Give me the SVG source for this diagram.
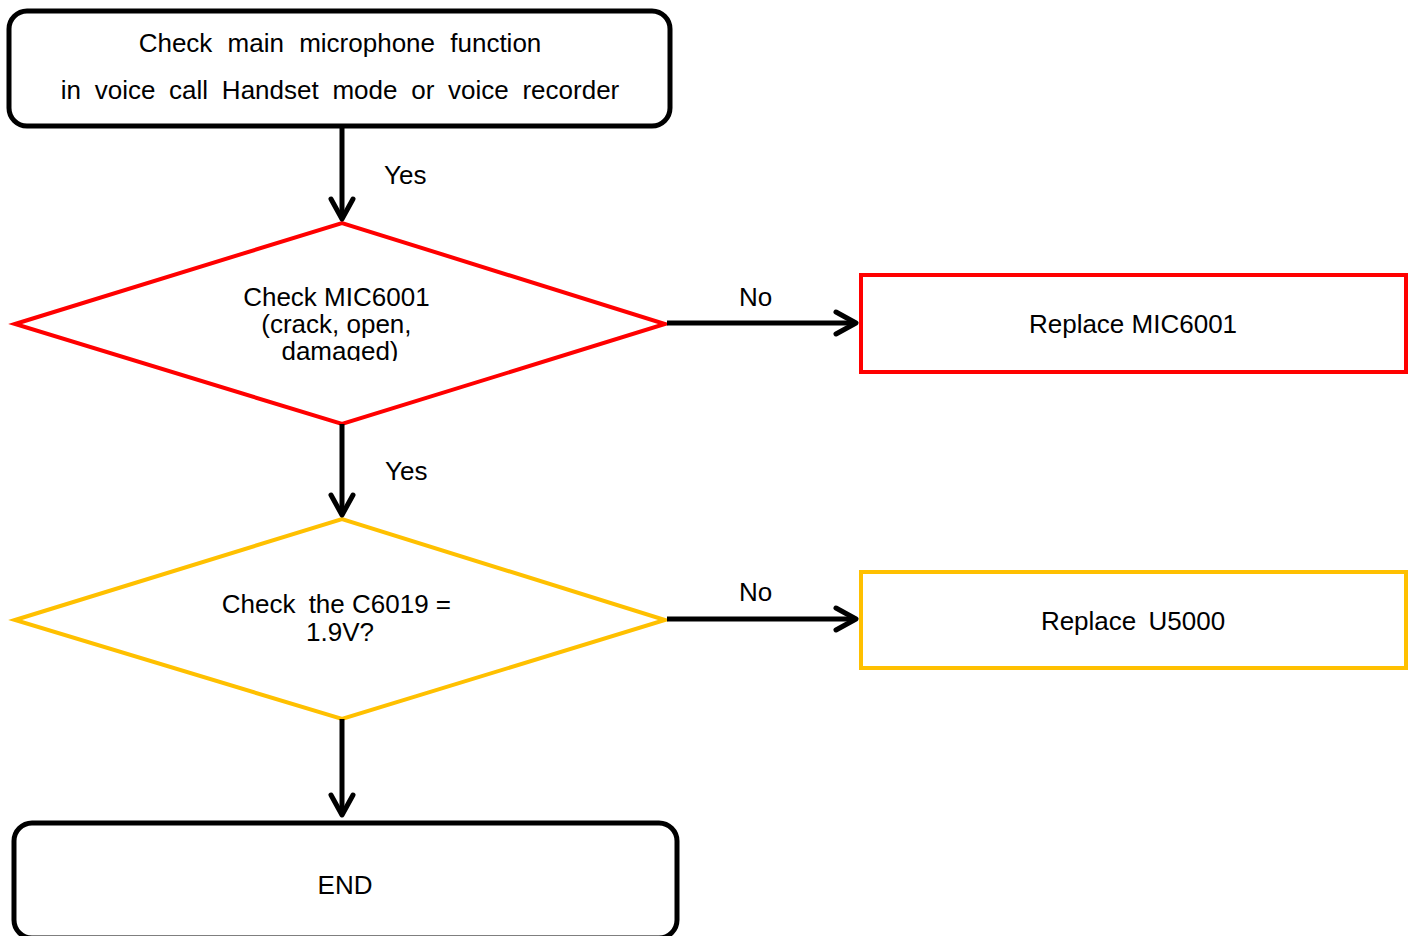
<svg xmlns="http://www.w3.org/2000/svg" width="1414" height="936" viewBox="0 0 1414 936">
  <style>
    .t { font-family: "Liberation Sans", Arial, sans-serif; fill: #000; font-size: 26px; }
    .term { fill: #fff; stroke: #000; stroke-width: 5; }
    .red { fill: #fff; stroke: #FF0000; stroke-width: 4; }
    .gold { fill: #fff; stroke: #FFC000; stroke-width: 4; }
    .conn { stroke: #000; stroke-width: 5; fill: none; }
  </style>
  <defs>
    <marker id="arr" markerUnits="userSpaceOnUse" orient="auto" refX="0" refY="0" overflow="visible" markerWidth="30" markerHeight="30">
      <path d="M -20,-11 L 0,0 L -20,11" fill="none" stroke="#000" stroke-width="5" stroke-linecap="round" stroke-linejoin="round"/>
    </marker>
    <clipPath id="clip1">
      <rect x="0" y="270" width="700" height="91"/>
    </clipPath>
  </defs>
  <rect width="1414" height="936" fill="#fff"/>

  <g id="start">
    <rect class="term" x="9" y="11" width="661" height="115" rx="18"/>
    <text class="t" x="340" y="52" text-anchor="middle" word-spacing="8">Check main microphone function</text>
    <text class="t" x="340" y="99" text-anchor="middle" word-spacing="6.5">in voice call Handset mode or voice recorder</text>
  </g>

  <g id="check-mic">
    <polygon class="red" points="15,324 342,223 665,324 342,424"/>
    <g clip-path="url(#clip1)">
      <text class="t" text-anchor="middle" font-size="26.5">
        <tspan x="340" y="306">Check MIC6001</tspan>
        <tspan x="340" y="333">(crack, open,</tspan>
        <tspan x="340" y="360">damaged)</tspan>
      </text>
    </g>
  </g>

  <g id="replace-mic">
    <rect class="red" x="861" y="275" width="545" height="97"/>
    <text class="t" x="1133" y="333" text-anchor="middle" font-size="26.5">Replace MIC6001</text>
  </g>

  <g id="check-c6019">
    <polygon class="gold" points="15,620 342,519 665,620 342,719"/>
    <text class="t" text-anchor="middle" font-size="26.5">
      <tspan x="340" y="613">Check<tspan dx="6"> the C6019 =</tspan></tspan>
      <tspan x="340" y="641">1.9V?</tspan>
    </text>
  </g>

  <g id="replace-u5000">
    <rect class="gold" x="861" y="572" width="545" height="96"/>
    <text class="t" x="1133" y="630" text-anchor="middle" font-size="26.5" word-spacing="5">Replace U5000</text>
  </g>

  <g id="end">
    <rect class="term" x="14" y="823" width="663" height="115" rx="18"/>
    <text class="t" x="345" y="894" text-anchor="middle">END</text>
  </g>

  <g id="connectors">
    <line class="conn" x1="342" y1="126" x2="342" y2="219" marker-end="url(#arr)"/>
    <text class="t" x="384" y="184">Yes</text>

    <line class="conn" x1="667" y1="323" x2="856" y2="323" marker-end="url(#arr)"/>
    <text class="t" x="739" y="306">No</text>

    <line class="conn" x1="342" y1="424" x2="342" y2="515" marker-end="url(#arr)"/>
    <text class="t" x="385" y="480">Yes</text>

    <line class="conn" x1="667" y1="619" x2="856" y2="619" marker-end="url(#arr)"/>
    <text class="t" x="739" y="601">No</text>

    <line class="conn" x1="342" y1="719" x2="342" y2="815" marker-end="url(#arr)"/>
  </g>
</svg>
